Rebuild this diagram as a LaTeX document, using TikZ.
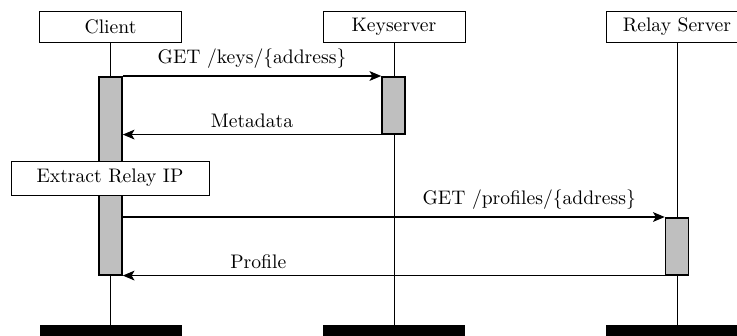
\documentclass[tikz,border=0pt]{standalone}
\usetikzlibrary{arrows.meta}
\newlength\upx
\setlength\upx{0.51pt}
\begin{document}
\begin{tikzpicture}[x=\upx,y=-\upx,
  actor/.style={draw,line width=0.5pt,fill=white,minimum width=142\upx,minimum height=31\upx,inner sep=0pt,anchor=north},
  endbar/.style={fill=black,minimum width=142\upx,minimum height=14\upx,inner sep=0pt,anchor=north},
  act/.style={draw,line width=0.8pt,fill=gray!50,minimum width=23\upx,inner sep=0pt,anchor=north},
  life/.style={line width=0.5pt},
  msg/.style={line width=0.6pt,-{Stealth[length=6pt,width=5pt,inset=1.5pt]}},
  lbl/.style={above}
]
\useasboundingbox (0,0) rectangle (737,335);
% actors
\node[actor] (client) at (110.5,11) {Client};
\node[actor] (key) at (394,11) {Keyserver};
\node[actor] (relay) at (677,11) {Relay Server};
% end bars
\node[endbar] (cend) at (110.5,325) {};
\node[endbar] (kend) at (394,325) {};
\node[endbar] (rend) at (677,325) {};
% lifelines
\draw[life] (client.south) -- (cend.north);
\draw[life] (key.south) -- (kend.north);
\draw[life] (relay.south) -- (rend.north);
% activations
\node[act,minimum height=198\upx] (cbar) at (110.5,76) {};
\node[act,minimum height=57\upx] (kbar) at (393.5,76) {};
\node[act,minimum height=57\upx] (rbar) at (677,217) {};
% action box
\node[draw,line width=0.5pt,fill=white,minimum width=198\upx,minimum height=34\upx,inner sep=0pt] (extract) at (110,178) {Extract Relay IP};
% messages
\draw[msg] (cbar.north east) -- node[lbl] {GET /keys/\{address\}} (kbar.north west);
\draw[msg] (kbar.south west) -- node[lbl] {Metadata} (cbar.east |- kbar.south);
\draw[msg] (cbar.east |- rbar.north) -- node[lbl,pos=0.75] {GET /profiles/\{address\}} (rbar.north west);
\draw[msg] (rbar.south west) -- node[lbl,pos=0.75] {Profile} (cbar.east |- rbar.south);
\end{tikzpicture}
\end{document}
